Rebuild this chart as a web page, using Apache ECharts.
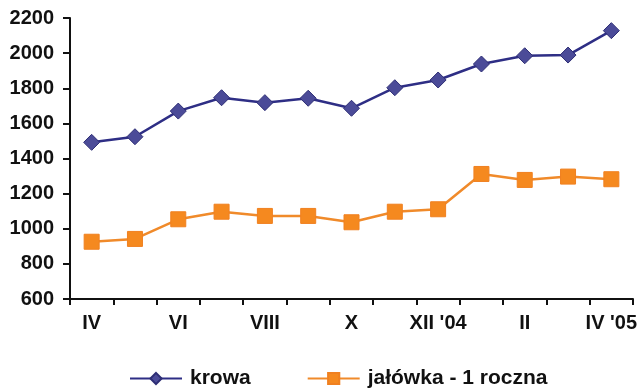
<!DOCTYPE html>
<html><head><meta charset="utf-8">
<script src="https://cdn.jsdelivr.net/npm/echarts@6/dist/echarts.min.js"></script>
<style>html,body{margin:0;padding:0;background:#fff}#c{width:643px;height:390px}</style>
</head><body><div id="c"></div>
<script>
var categories = ['IV','V','VI','VII','VIII','IX','X','XI',"XII '04",'I','II','III',"IV '05"];
var krowa = [1492,1524,1670,1746,1718,1743,1686,1803,1847,1938,1985,1989,2128];
var jalowka = [926,942,1054,1097,1073,1073,1037,1097,1111,1312,1278,1297,1282];
var yTicks = [600,800,1000,1200,1400,1600,1800,2000,2200];

var font = 'Liberation Sans, Arial, sans-serif';
var chart = echarts.init(document.getElementById('c'), null, {renderer:'canvas'});
chart.setOption({
  animation:false,
  backgroundColor:'#fff',
  grid:{left:70,right:10,top:18,bottom:91,containLabel:false},
  legend:{
    bottom:-4,left:124,itemWidth:52,itemHeight:14,itemGap:56,
    textStyle:{fontFamily:font,fontWeight:'bold',fontSize:21,color:'#111',padding:[0,0,0,3]},
    data:['krowa','jałówka - 1 roczna']
  },
  xAxis:{
    type:'category',data:categories,boundaryGap:true,
    axisLine:{lineStyle:{color:'#111',width:2}},
    axisTick:{show:true,interval:0,length:6,lineStyle:{color:'#111',width:2}},
    axisLabel:{interval:1,margin:14,fontFamily:font,fontWeight:'bold',fontSize:20,color:'#111'}
  },
  yAxis:{
    type:'value',min:yTicks[0],max:yTicks[yTicks.length-1],interval:200,
    splitLine:{show:false},
    axisLine:{show:true,lineStyle:{color:'#111',width:2}},
    axisTick:{show:true,length:7,lineStyle:{color:'#111',width:2}},
    axisLabel:{margin:16,fontFamily:font,fontWeight:'bold',fontSize:20,color:'#111',
      formatter:function(v){return String(v);}}
  },
  series:[
    {name:'krowa',type:'line',data:krowa,symbol:'diamond',symbolSize:16,
     lineStyle:{color:'#2e2e85',width:2.5},
     itemStyle:{color:'#4b4b98',borderColor:'#2e2e75',borderWidth:1}},
    {name:'jałówka - 1 roczna',type:'line',data:jalowka,symbol:'rect',symbolSize:15,
     lineStyle:{color:'#f08a2a',width:2.5},
     itemStyle:{color:'#f5891f',borderColor:'#f08020',borderWidth:1}}
  ]
});
</script></body></html>
